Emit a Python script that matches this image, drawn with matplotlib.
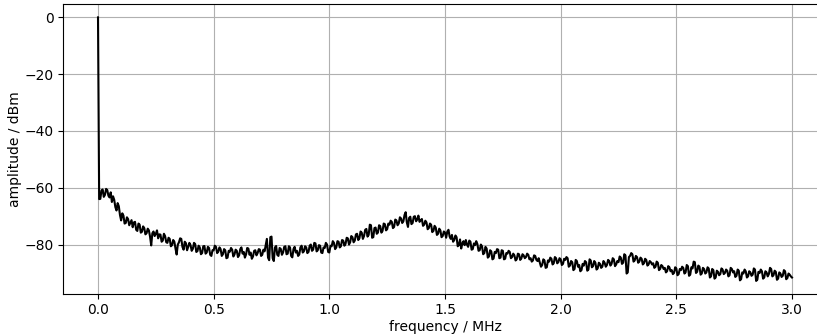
"""
Spectrum of the measured signal, amplitude vs frequency
"""
import numpy as np
import matplotlib
matplotlib.use("Agg")
import matplotlib.pyplot as plt

# amplitude in dBm, one value every 0.005 MHz from 0.0 to 3.0 MHz
# (one row = 0.1 MHz)
amp = [
    0.0, -64.0, -63.9, -61.0, -60.6, -63.2, -62.5, -60.4, -60.8, -62.8, -63.4, -61.6, -65.0, -63.0, -64.2, -66.8, -68.0, -65.4, -66.5, -69.6,
    -71.5, -69.0, -69.8, -72.6, -72.4, -70.4, -71.0, -73.2, -72.3, -71.4, -73.9, -72.2, -72.0, -74.8, -75.2, -72.6, -73.0, -75.8, -75.5, -73.6,
    -74.2, -76.4, -76.0, -74.4, -75.0, -77.2, -80.3, -76.0, -75.4, -77.0, -76.2, -75.0, -77.8, -76.4, -76.5, -79.0, -78.6, -76.2, -77.0, -79.2,
    -79.4, -77.6, -78.0, -80.6, -80.2, -78.4, -79.0, -81.4, -83.5, -80.0, -79.2, -77.8, -78.0, -80.8, -81.8, -79.0, -79.5, -82.0, -80.8, -79.4,
    -80.2, -82.2, -81.5, -79.4, -79.8, -82.6, -82.3, -80.4, -81.0, -83.4, -83.0, -80.6, -80.5, -83.2, -82.8, -80.8, -81.2, -83.6, -84.0, -82.0,
    -82.0, -80.4, -80.8, -83.0, -82.5, -81.0, -81.6, -84.0, -83.4, -81.6, -82.0, -84.8, -84.6, -82.2, -82.5, -81.2, -81.8, -84.2, -83.5, -81.8,
    -82.2, -84.4, -83.8, -81.6, -81.0, -83.2, -82.6, -84.6, -83.5, -81.2, -81.4, -83.6, -82.8, -85.0, -84.2, -82.2, -82.0, -83.8, -83.0, -81.6,
    -81.8, -84.0, -83.6, -81.8, -82.4, -80.2, -78.0, -84.6, -85.5, -77.4, -77.2, -84.8, -85.8, -81.0, -80.5, -83.6, -84.0, -81.2, -81.5, -83.6,
    -82.8, -80.8, -80.6, -83.4, -83.2, -80.6, -81.0, -84.0, -84.5, -81.6, -80.8, -82.8, -82.2, -84.0, -83.5, -81.0, -80.4, -82.8, -82.4, -80.6,
    -81.0, -83.0, -82.6, -80.4, -80.0, -82.2, -81.8, -79.4, -79.6, -82.4, -82.0, -80.2, -80.4, -82.8, -83.0, -81.0, -81.2, -79.4, -80.0, -82.6,
    -82.8, -80.4, -80.6, -78.8, -79.4, -81.6, -81.0, -78.8, -79.0, -81.0, -80.6, -78.4, -78.6, -80.4, -79.8, -77.6, -77.8, -80.0, -79.2, -77.0,
    -77.4, -79.2, -78.6, -76.4, -76.2, -78.4, -77.8, -75.4, -75.8, -78.0, -77.0, -74.8, -74.5, -77.2, -76.6, -73.0, -73.2, -77.6, -77.4, -74.2,
    -74.0, -76.2, -75.8, -73.2, -73.5, -75.8, -75.2, -72.6, -72.8, -75.0, -74.6, -72.6, -73.0, -71.6, -72.0, -74.2, -73.8, -71.2, -71.5, -73.2,
    -72.6, -70.4, -70.8, -72.4, -71.8, -69.6, -68.6, -72.2, -73.8, -70.6, -70.2, -72.8, -72.4, -70.2, -70.0, -71.8, -71.2, -69.8, -72.0, -71.4,
    -71.0, -73.4, -73.0, -71.6, -72.2, -74.6, -74.2, -72.6, -73.0, -75.6, -75.2, -73.4, -74.0, -76.6, -76.2, -74.4, -75.0, -77.4, -77.0, -75.4,
    -75.8, -77.6, -75.4, -74.8, -77.2, -78.0, -76.6, -79.0, -78.4, -76.8, -77.4, -80.6, -80.2, -78.2, -81.4, -79.6, -78.8, -80.2, -78.4, -80.0,
    -80.8, -78.6, -79.0, -81.8, -81.6, -79.6, -80.2, -78.8, -79.8, -82.2, -82.0, -80.0, -80.6, -83.4, -83.0, -80.8, -81.4, -84.6, -84.2, -82.0,
    -82.4, -85.2, -84.9, -82.6, -83.0, -81.6, -81.8, -84.8, -84.6, -82.0, -82.2, -85.2, -85.0, -83.0, -83.2, -82.2, -82.6, -84.8, -84.4, -83.2,
    -83.8, -85.6, -85.2, -83.2, -83.4, -85.4, -84.9, -83.4, -83.8, -84.8, -84.4, -83.2, -83.6, -85.2, -84.8, -86.0, -85.6, -83.8, -84.0, -85.4,
    -85.8, -84.8, -86.4, -87.8, -87.2, -85.2, -85.6, -88.2, -88.0, -85.6, -86.0, -84.6, -85.0, -87.0, -86.6, -84.4, -84.8, -86.6, -86.2, -84.8,
    -85.2, -87.2, -86.8, -85.0, -85.4, -84.4, -84.8, -87.8, -87.4, -85.8, -86.2, -89.0, -88.6, -85.4, -85.8, -87.8, -87.2, -89.4, -89.0, -86.8,
    -87.4, -85.8, -86.2, -89.2, -88.8, -85.2, -85.6, -88.0, -87.6, -85.8, -86.4, -88.8, -88.4, -86.4, -86.8, -88.2, -87.8, -85.8, -86.4, -87.8,
    -87.2, -85.4, -85.8, -87.4, -86.8, -84.8, -85.2, -87.6, -87.0, -85.8, -86.2, -84.2, -84.6, -86.8, -86.4, -83.4, -83.8, -90.2, -89.8, -84.4,
    -84.0, -83.0, -83.4, -86.0, -85.6, -84.0, -84.4, -86.4, -86.0, -84.6, -85.0, -87.0, -86.6, -85.0, -85.4, -87.4, -87.0, -85.8, -86.2, -87.0,
    -86.6, -88.2, -87.8, -86.0, -86.4, -89.0, -88.6, -87.2, -87.6, -88.6, -88.2, -89.8, -89.4, -87.6, -88.0, -89.4, -89.0, -90.4, -90.0, -88.0,
    -88.4, -90.8, -90.4, -88.6, -89.0, -87.8, -88.2, -90.2, -89.8, -87.2, -87.6, -91.0, -90.6, -88.0, -88.4, -86.0, -86.2, -90.0, -89.6, -87.4,
    -87.8, -90.6, -90.2, -88.2, -88.6, -90.2, -89.8, -88.0, -88.4, -91.6, -91.2, -88.6, -89.0, -92.0, -91.6, -89.2, -89.6, -90.8, -90.4, -88.4,
    -88.8, -90.4, -90.0, -88.8, -89.2, -91.2, -90.8, -88.2, -88.6, -89.8, -89.4, -91.4, -91.0, -88.8, -89.2, -92.6, -92.2, -89.8, -90.2, -88.8,
    -89.4, -91.6, -91.2, -89.4, -89.8, -91.0, -90.6, -88.4, -88.8, -92.8, -92.4, -89.6, -90.0, -88.8, -89.4, -92.0, -91.6, -89.4, -89.8, -91.2,
    -90.4, -88.2, -88.6, -91.2, -90.8, -89.2, -89.6, -92.4, -92.0, -89.8, -90.2, -91.4, -91.0, -89.0, -89.4, -92.2, -91.8, -90.2, -90.6, -91.2,
    -91.6,
]
freq = np.linspace(0.0, 3.0, len(amp))  # MHz

xticks = [0.0, 0.5, 1.0, 1.5, 2.0, 2.5, 3.0]
yticks = [0, -20, -40, -60, -80]

fig = plt.figure(figsize=(8.17, 3.36), dpi=100)
# the original was cropped on the right, so the axes run a bit past the edge
ax = fig.add_axes([63.3/817, 1 - 293.7/336, (826.7 - 63.3)/817, (293.7 - 4.3)/336])

ax.plot(freq, amp, color='k', lw=1.5)
ax.set_xlim(-0.15, 3.15)
ax.set_ylim(-97.3, 4.6)
ax.set_xticks(xticks)
ax.set_yticks(yticks)
ax.grid(True)
ax.set_xlabel("frequency / MHz", labelpad=2)
ax.set_ylabel("amplitude / dBm", labelpad=2)

fig.savefig("out.png", dpi=100)
